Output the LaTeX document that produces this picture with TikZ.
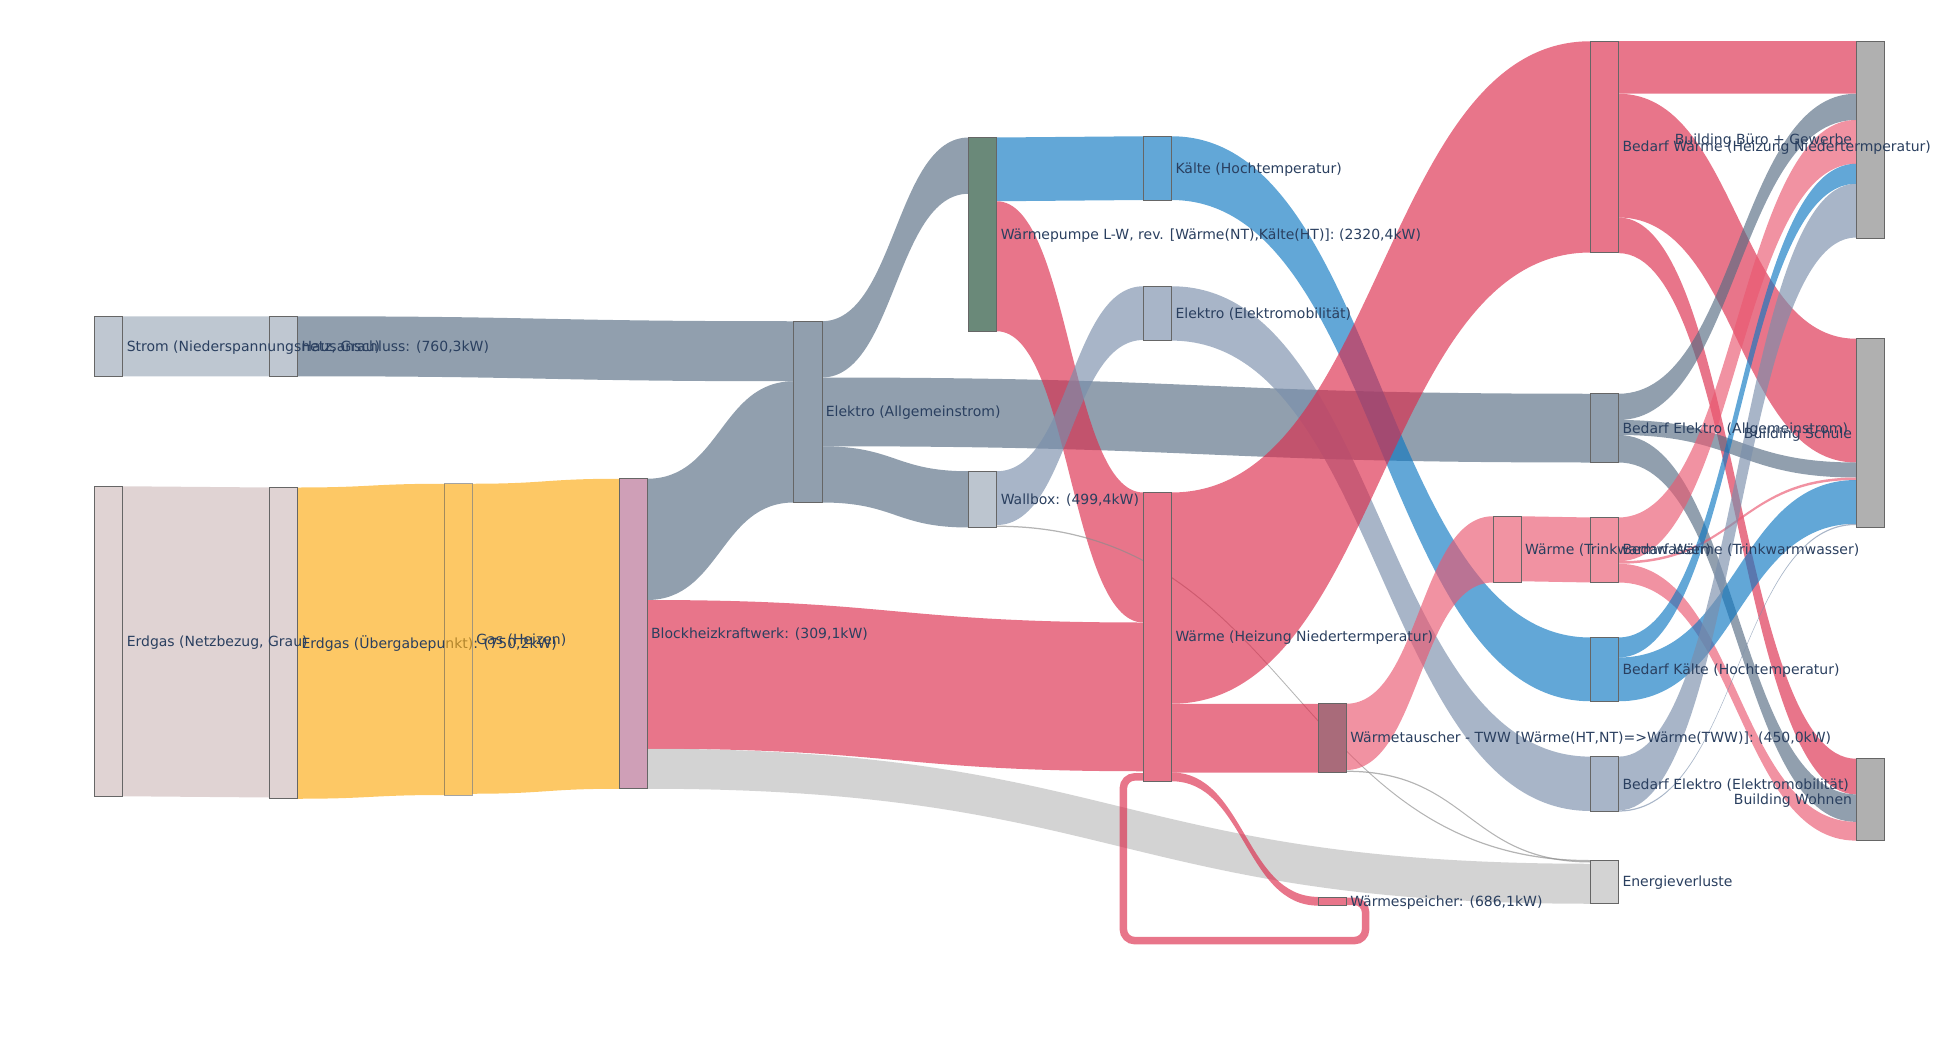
\documentclass[tikz,border=0pt]{standalone}
\usepackage{fontspec}
\setmainfont{DejaVu Sans}
\usetikzlibrary{calc}
\pgfdeclarelayer{bg}\pgfdeclarelayer{mid}\pgfdeclarelayer{fg}
\pgfsetlayers{bg,mid,main,fg}
\definecolor{txt}{HTML}{2A3F5F}
\definecolor{cStrom}{HTML}{BFC7D1}
\definecolor{cErd}{HTML}{E0D3D3}
\definecolor{cBhkw}{HTML}{CF9FB7}
\definecolor{cEl}{HTML}{919FAE}
\definecolor{cWp}{HTML}{6A8979}
\definecolor{cWall}{HTML}{BCC5CF}
\definecolor{cBlue}{HTML}{62A7D7}
\definecolor{cMob}{HTML}{A8B5C8}
\definecolor{cPink}{HTML}{E8758A}
\definecolor{cTau}{HTML}{A96B7A}
\definecolor{cLPink}{HTML}{F193A2}
\definecolor{cVerl}{HTML}{D3D3D3}
\definecolor{cBld}{HTML}{B0B0B0}
\definecolor{lStrom}{HTML}{9BA9B9}
\definecolor{lErd}{HTML}{D0BCBC}
\definecolor{lGas}{HTML}{FCAB12}
\definecolor{lEl}{HTML}{566C83}
\definecolor{lMob}{HTML}{7A8EAB}
\definecolor{lBlue}{HTML}{0E78C2}
\definecolor{lPink}{HTML}{DC2B4B}
\definecolor{lLPink}{HTML}{EA5870}
\definecolor{lVerl}{HTML}{BCBCBC}
\definecolor{lThin}{HTML}{8C8C8C}
\tikzset{
  nd/.style={draw=black!60, line width=0.5pt, rectangle, inner sep=0pt, outer sep=0pt,
             minimum width=22.5pt, anchor=north west},
  lbl/.style={font=\fontsize{11.2}{13}\selectfont, text=txt, inner sep=0pt, outer sep=0pt,
              text height=9.5pt, text depth=1.66pt},
  band/.style={fill=#1, fill opacity=0.65},
}
% link: src, src offset, tgt, tgt offset, width, colour
\newcommand\lnk[6]{\path[band=#6] let \p1=(#1.north east), \p2=(#3.north west),
  \p3=($(\p1)!.5!(\p2)$) in
  (\x1,\y1-#2pt) .. controls (\x3,\y1-#2pt) and (\x3,\y2-#4pt) .. (\x2,\y2-#4pt)
  -- (\x2,\y2-#4pt-#5pt) .. controls (\x3,\y2-#4pt-#5pt) and (\x3,\y1-#2pt-#5pt) .. (\x1,\y1-#2pt-#5pt)
  -- cycle;}
\begin{document}
\begin{tikzpicture}[x=1pt,y=1pt]
\useasboundingbox (0,0) rectangle (1563.2,-840);
% nodes
\node[nd, fill=cStrom, minimum height=48pt] (stromA) at (75.7,-253) {};
\node[nd, fill=cErd, minimum height=248pt] (erdA) at (75.7,-389) {};
\node[nd, fill=cStrom, minimum height=48pt] (stromB) at (215.5,-253) {};
\node[nd, fill=cErd, minimum height=249pt] (erdB) at (215.5,-390) {};
\node[nd, fill=lGas, fill opacity=0.65, draw opacity=0.6, minimum height=249pt] (gas) at (355.4,-387) {};
\node[nd, fill=cBhkw, minimum height=248pt] (bhkw) at (495.2,-383) {};
\node[nd, fill=cEl, minimum height=145pt] (elA) at (635,-257) {};
\node[nd, fill=cWp, minimum height=155pt] (wp) at (774.9,-110) {};
\node[nd, fill=cWall, minimum height=45pt] (wallbox) at (774.9,-377) {};
\node[nd, fill=cBlue, minimum height=51pt] (kaelte) at (914.7,-109) {};
\node[nd, fill=cMob, minimum height=43pt] (elMob) at (914.7,-229) {};
\node[nd, fill=cPink, minimum height=231pt] (waerme) at (914.7,-394) {};
\node[nd, fill=cTau, minimum height=54.5pt] (tauscher) at (1054.5,-563) {};
\node[nd, fill=cPink, minimum height=7pt] (speicher) at (1054.5,-717.5) {};
\node[nd, fill=cLPink, minimum height=53pt] (tww1) at (1194.4,-413) {};
\node[nd, fill=cPink, minimum height=169pt] (bedW) at (1272.3,-33) {};
\node[nd, fill=cEl, minimum height=55pt] (bedEl) at (1272.3,-315) {};
\node[nd, fill=cLPink, minimum height=52pt] (bedTWW) at (1272.3,-414) {};
\node[nd, fill=cBlue, minimum height=51pt] (bedK) at (1272.3,-510) {};
\node[nd, fill=cMob, minimum height=44pt] (bedMob) at (1272.3,-605.3) {};
\node[nd, fill=cVerl, minimum height=35pt] (verl) at (1272.3,-688) {};
\node[nd, fill=cBld, minimum height=157.5pt] (buero) at (1484.8,-33) {};
\node[nd, fill=cBld, minimum height=151pt] (schule) at (1484.8,-271) {};
\node[nd, fill=cBld, minimum height=65.5pt] (wohnen) at (1484.8,-607) {};
% links
\begin{pgfonlayer}{bg}
\lnk{stromA}{0}{stromB}{0}{48}{lStrom}
\lnk{erdA}{0}{erdB}{0}{248}{lErd}
\lnk{stromB}{0}{elA}{0}{48}{lEl}
\lnk{erdB}{0}{gas}{0}{249}{lGas}
\lnk{gas}{0}{bhkw}{0}{248}{lGas}
\lnk{bhkw}{0}{elA}{48}{97}{lEl}
\lnk{bhkw}{97}{waerme}{104}{119}{lPink}
\lnk{bhkw}{216}{verl}{3}{32}{lVerl}
\lnk{elA}{0}{wp}{0}{45}{lEl}
\lnk{elA}{45}{bedEl}{0}{55}{lEl}
\lnk{elA}{100}{wallbox}{0}{45}{lEl}
\lnk{wp}{0}{kaelte}{0}{51}{lBlue}
\lnk{wp}{51}{waerme}{0}{104}{lPink}
\lnk{wallbox}{0}{elMob}{0}{43}{lMob}
\lnk{wallbox}{43.5}{verl}{0}{1}{lThin}
\lnk{kaelte}{0}{bedK}{0}{51}{lBlue}
\lnk{elMob}{0}{bedMob}{0}{43.5}{lMob}
\lnk{waerme}{0}{bedW}{0}{169}{lPink}
\lnk{waerme}{169}{tauscher}{0}{55}{lPink}
\lnk{waerme}{224}{speicher}{0}{7}{lPink}
\lnk{tauscher}{0}{tww1}{0}{53}{lLPink}
\lnk{tauscher}{53.5}{verl}{1}{1}{lThin}
\lnk{tww1}{0}{bedTWW}{0}{52}{lLPink}
\lnk{bedW}{0}{buero}{0}{42}{lPink}
\lnk{bedW}{42}{schule}{0}{99}{lPink}
\lnk{bedW}{141}{wohnen}{0}{28.5}{lPink}
\lnk{bedEl}{0}{buero}{42}{21}{lEl}
\lnk{bedEl}{21}{schule}{99}{12}{lEl}
\lnk{bedEl}{33}{wohnen}{28.5}{22}{lEl}
\lnk{bedTWW}{0}{buero}{63}{35}{lLPink}
\lnk{bedTWW}{35}{schule}{111}{2}{lLPink}
\lnk{bedTWW}{37}{wohnen}{50.5}{15}{lLPink}
\lnk{bedK}{0}{buero}{98}{16}{lBlue}
\lnk{bedK}{16}{schule}{113}{35}{lBlue}
\lnk{bedMob}{0}{buero}{114}{43}{lMob}
\lnk{bedMob}{43}{schule}{148}{1}{lMob}
% circular link Waermespeicher -> Waerme
\draw[lPink, draw opacity=0.65, line width=6pt, rounded corners=9pt]
  (speicher.east) -- ++(15.5,0) -- ++(0,-31.5)
  -| ([xshift=-16pt,yshift=3.5pt]waerme.south west) -- ([yshift=3.5pt]waerme.south west);
\end{pgfonlayer}
% labels
\begin{pgfonlayer}{mid}
\node[lbl, anchor=west] at ([xshift=3.2pt]erdB.east) {Erdgas (Übergabepunkt): (750,2kW)};
\end{pgfonlayer}
\begin{pgfonlayer}{fg}
\node[lbl, anchor=west] at ([xshift=3.2pt]stromB.east) {Hausanschluss: (760,3kW)};
\node[lbl, anchor=west] at ([xshift=3.2pt]stromA.east) {Strom (Niederspannungsnetz, Grau)};
\node[lbl, anchor=west] at ([xshift=3.2pt]erdA.east) {Erdgas (Netzbezug, Grau)};
\node[lbl, anchor=west] at ([xshift=3.2pt]gas.east) {Gas (Heizen)};
\node[lbl, anchor=west] at ([xshift=3.2pt]bhkw.east) {Blockheizkraftwerk: (309,1kW)};
\node[lbl, anchor=west] at ([xshift=3.2pt]elA.east) {Elektro (Allgemeinstrom)};
\node[lbl, anchor=west] at ([xshift=3.2pt]wp.east) {Wärmepumpe L-W, rev. [Wärme(NT),Kälte(HT)]: (2320,4kW)};
\node[lbl, anchor=west] at ([xshift=3.2pt]wallbox.east) {Wallbox: (499,4kW)};
\node[lbl, anchor=west] at ([xshift=3.2pt]kaelte.east) {Kälte (Hochtemperatur)};
\node[lbl, anchor=west] at ([xshift=3.2pt]elMob.east) {Elektro (Elektromobilität)};
\node[lbl, anchor=west] at ([xshift=3.2pt]waerme.east) {Wärme (Heizung Niedertermperatur)};
\node[lbl, anchor=west] at ([xshift=3.2pt]tauscher.east) {Wärmetauscher - TWW [Wärme(HT,NT)=>Wärme(TWW)]: (450,0kW)};
\node[lbl, anchor=west] at ([xshift=3.2pt]speicher.east) {Wärmespeicher: (686,1kW)};
\node[lbl, anchor=west] at ([xshift=3.2pt]bedW.east) {Bedarf Wärme (Heizung Niedertermperatur)};
\node[lbl, anchor=west] at ([xshift=3.2pt]bedEl.east) {Bedarf Elektro (Allgemeinstrom)};
\node[lbl, anchor=west] at ([xshift=3.2pt]bedTWW.east) {Bedarf Wärme (Trinkwarmwasser)};
\node[lbl, anchor=west] at ([xshift=3.2pt]tww1.east) {Wärme (Trinkwarmwasser)};
\node[lbl, anchor=west] at ([xshift=3.2pt]bedK.east) {Bedarf Kälte (Hochtemperatur)};
\node[lbl, anchor=west] at ([xshift=3.2pt]bedMob.east) {Bedarf Elektro (Elektromobilität)};
\node[lbl, anchor=west] at ([xshift=3.2pt]verl.east) {Energieverluste};
\node[lbl, anchor=east] at ([xshift=-3.2pt]buero.west) {Building Büro + Gewerbe};
\node[lbl, anchor=east] at ([xshift=-3.2pt]schule.west) {Building Schule};
\node[lbl, anchor=east] at ([xshift=-3.2pt]wohnen.west) {Building Wohnen};
\end{pgfonlayer}
\end{tikzpicture}
\end{document}
